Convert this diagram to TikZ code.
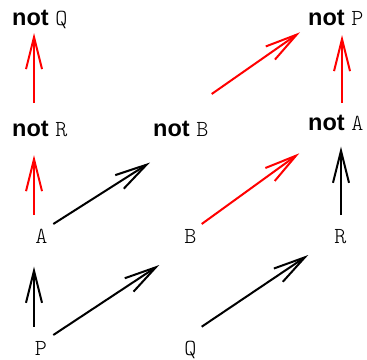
\documentclass[tikz,border=0pt]{standalone}
\usepackage{fontspec}
\setmainfont{Liberation Sans}
\newfontfamily\monolt{Latin Modern Mono Light}
\usetikzlibrary{arrows.meta}
\begin{document}
\begin{tikzpicture}[x=1pt,y=-1pt,
  lbl/.style={inner sep=0pt,anchor=base west,font=\fontsize{23.5}{28}\selectfont},
  var/.style={inner sep=0pt,anchor=base,font=\fontsize{23}{27}\monolt},
  arr/.style={line width=2pt,-{Straight Barb[length=32pt,width=16pt]}},
  blk/.style={arr,black},
  rd/.style={arr,red}]
\useasboundingbox (0,0) rectangle (367,359);
\newcommand{\nt}[1]{\textbf{not} {\fontsize{23}{27}\monolt #1}}
\node[lbl] (notQ) at (12,25) {\nt{Q}};
\node[lbl] (notP) at (308,25) {\nt{P}};
\node[lbl] (notR) at (12,136) {\nt{R}};
\node[lbl] (notB) at (153,136) {\nt{B}};
\node[lbl] (notA) at (308,130) {\nt{A}};
\node[var] (A) at (41.5,243) {A};
\node[var] (B) at (190.5,243) {B};
\node[var] (R) at (340.5,243) {R};
\node[var] (P) at (41,355) {P};
\node[var] (Q) at (190.5,355) {Q};
% connector end points
\coordinate (notQ-in) at (34,33);
\coordinate (notR-out) at (34,103);
\coordinate (notR-in) at (34,155);
\coordinate (A-up) at (34,215);
\coordinate (A-out) at (53.3,224);
\coordinate (notB-in) at (150,162.5);
\coordinate (notB-out) at (211.7,94);
\coordinate (notP-in1) at (300,32.3);
\coordinate (notP-in2) at (342,35);
\coordinate (notA-out) at (342,103);
\coordinate (notA-in1) at (299.3,153.3);
\coordinate (notA-in2) at (341,146.7);
\coordinate (B-out) at (201.7,224);
\coordinate (R-out) at (341,215);
\coordinate (A-in) at (34,266.7);
\coordinate (B-in) at (159.3,265);
\coordinate (R-in) at (308.3,255);
\coordinate (P-up) at (34,326.7);
\coordinate (P-out) at (53.3,335);
\coordinate (Q-out) at (201.7,326.7);
\draw[rd] (notR-out) -- (notQ-in);
\draw[rd] (A-up) -- (notR-in);
\draw[blk] (A-out) -- (notB-in);
\draw[rd] (notB-out) -- (notP-in1);
\draw[rd] (notA-out) -- (notP-in2);
\draw[rd] (B-out) -- (notA-in1);
\draw[blk] (R-out) -- (notA-in2);
\draw[blk] (P-up) -- (A-in);
\draw[blk] (P-out) -- (B-in);
\draw[blk] (Q-out) -- (R-in);
\end{tikzpicture}
\end{document}
